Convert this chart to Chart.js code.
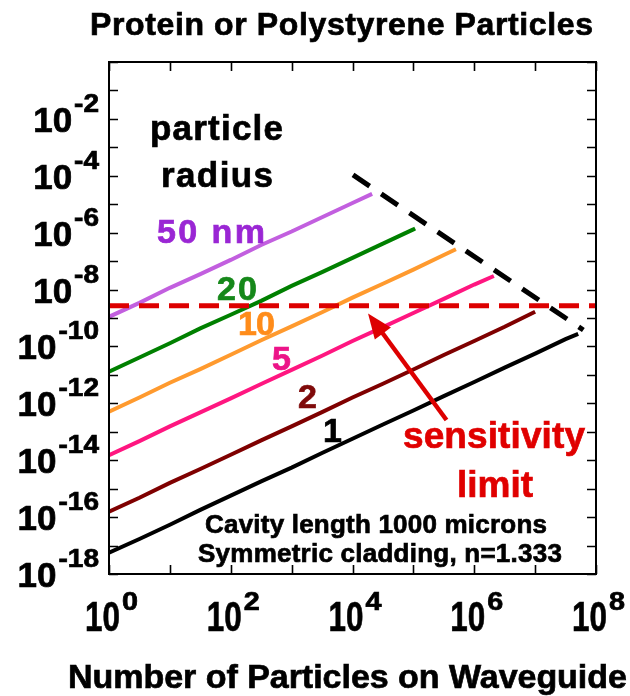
<!DOCTYPE html>
<html>
<head>
<meta charset="utf-8">
<script src="https://cdn.jsdelivr.net/npm/chart.js@4.4.1/dist/chart.umd.min.js"></script>
<style>
  html, body { margin: 0; padding: 0; background: #fff; }
  #wrap { width: 630px; height: 696px; }
</style>
</head>
<body>
<div id="wrap"><canvas id="sensChart" width="630" height="696"></canvas></div>
<script>
// number of particles on the waveguide (half-decade grid)
const particleCounts = [1, 3.16, 10, 31.6, 100, 316, 1e3, 3.16e3, 1e4, 3.16e4, 1e5, 3.16e5, 1e6, 3.16e6, 1e7, 3.16e7];

// signal for each particle radius
const radius50 = [1.1e-9, 3.4e-9, 1.15e-8, 3.5e-8, 1.1e-7, 3.7e-7, 1.1e-6, 3.5e-6, 1.1e-5];
const radius20 = [1.3e-11, 4.1e-11, 1.3e-10, 4.3e-10, 1.3e-9, 4.0e-9, 1.35e-8, 4.1e-8, 1.3e-7, 4.1e-7, 1.3e-6];
const radius10 = [5.1e-13, 1.6e-12, 5.3e-12, 1.6e-11, 5.1e-11, 1.65e-10, 5.1e-10, 1.6e-9, 5.2e-9, 1.6e-8, 5.0e-8, 1.65e-7];
const radius5 = [1.5e-14, 4.7e-14, 1.55e-13, 4.8e-13, 1.5e-12, 4.8e-12, 1.5e-11, 4.7e-11, 1.55e-10, 4.8e-10, 1.5e-9, 4.7e-9, 1.5e-8];
const radius2 = [1.55e-16, 4.8e-16, 1.6e-15, 4.9e-15, 1.55e-14, 5.0e-14, 1.55e-13, 4.9e-13, 1.6e-12, 4.9e-12, 1.55e-11, 5.0e-11, 1.55e-10, 4.9e-10];
const radius1 = [5.6e-18, 1.7e-17, 5.4e-17, 1.8e-16, 5.7e-16, 1.8e-15, 5.5e-15, 1.8e-14, 5.7e-14, 1.8e-13, 5.6e-13, 1.8e-12, 5.6e-12, 1.8e-11, 5.6e-11, 1.8e-10];

// last point of each curve (they stop at different counts)
const lastCount = [2.1e4, 1.07e5, 5.0e5, 2.1e6, 1.0e7, 5.1e7];
const lastSignal = [2.3e-5, 1.4e-6, 2.6e-7, 3.0e-8, 1.66e-9, 2.75e-10];

const radiusLabels = ["50 nm", "20", "10", "5", "2", "1"];
const lineColors = ["#c25fdf", "#008000", "#ff9a2e", "#ff1680", "#7f0000", "#000000"];
const textColors = ["#9a26d4", "#16881a", "#ff8c1a", "#ec1488", "#7f0a0a", "#000000"];

// sensitivity limit and the cut-off line through the curve ends
const sensitivityLimit = 2.7e-9;
const cutoffCounts = [1.02e4, 6.2e7];
const cutoffSignal = [1.07e-4, 3.8e-10];
const arrowTip = [1.8e4, 1.45e-9];
const arrowTail = [3.5e5, 2.6e-13];

// tick labels (powers of ten)
const xTickExps = [0, 2, 4, 6, 8];
const yTickExps = [-2, -4, -6, -8, -10, -12, -14, -16, -18];

const FONT = '"Liberation Sans", Arial, Helvetica, sans-serif';

function curve(values, i) {
    const pts = values.map((v, k) => ({ x: particleCounts[k], y: v }));
    pts.push({ x: lastCount[i], y: lastSignal[i] });
    return pts;
}

function fitText(ctx, text, left, baseline, size, color, width) {
    ctx.save();
    ctx.font = "bold " + size + "px " + FONT;
    ctx.fillStyle = color;
    ctx.strokeStyle = color;
    ctx.lineWidth = 0.7;
    ctx.textAlign = "left";
    ctx.textBaseline = "alphabetic";
    const natural = ctx.measureText(text).width;
    if (width && text.length > 1) {
        if ("letterSpacing" in ctx) {
            ctx.letterSpacing = ((width - natural) / (text.length - 1)).toFixed(2) + "px";
        } else {
            ctx.translate(left, baseline);
            ctx.scale(width / natural, 1);
            left = 0; baseline = 0;
        }
    }
    ctx.fillText(text, left, baseline);
    ctx.strokeText(text, left, baseline);
    ctx.restore();
}

function scaledText(ctx, text, left, baseline, size, sx) {
    ctx.save();
    ctx.font = "bold " + size + "px " + FONT;
    ctx.fillStyle = "#000";
    ctx.strokeStyle = "#000";
    ctx.lineWidth = 0.7;
    ctx.textBaseline = "alphabetic";
    ctx.translate(left, baseline);
    ctx.scale(sx, 1);
    ctx.fillText(text, 0, 0);
    ctx.strokeText(text, 0, 0);
    ctx.restore();
}

function textWidth(ctx, text, size, sx) {
    ctx.save();
    ctx.font = "bold " + size + "px " + FONT;
    const w = ctx.measureText(text).width * sx;
    ctx.restore();
    return w;
}

const framePlugin = {
    id: "frame",
    afterDraw(chart) {
        const ctx = chart.ctx;
        const a = chart.chartArea;
        const xs = chart.scales.x, ys = chart.scales.y;

        // frame + inward ticks
        ctx.save();
        ctx.strokeStyle = "#000";
        ctx.lineWidth = 2;
        ctx.strokeRect(a.left, a.top, a.right - a.left, a.bottom - a.top);
        ctx.lineWidth = 1.6;
        ctx.beginPath();
        for (let e = 0; e <= 8; e++) {
            const px = Math.round(xs.getPixelForValue(Math.pow(10, e))) + 0.5;
            ctx.moveTo(px, a.bottom); ctx.lineTo(px, a.bottom - 9);
            ctx.moveTo(px, a.top); ctx.lineTo(px, a.top + 9);
        }
        for (let e = 0; e >= -18; e--) {
            const py = Math.round(ys.getPixelForValue(Math.pow(10, e))) + 0.5;
            ctx.moveTo(a.left, py); ctx.lineTo(a.left + 9, py);
            ctx.moveTo(a.right, py); ctx.lineTo(a.right - 9, py);
        }
        ctx.stroke();

        // arrow to the sensitivity limit
        const tx = xs.getPixelForValue(arrowTip[0]), ty = ys.getPixelForValue(arrowTip[1]);
        const bx = xs.getPixelForValue(arrowTail[0]), by = ys.getPixelForValue(arrowTail[1]);
        const ang = Math.atan2(ty - by, tx - bx);
        ctx.strokeStyle = "#dd0000";
        ctx.fillStyle = "#dd0000";
        ctx.lineWidth = 4.5;
        ctx.beginPath();
        ctx.moveTo(bx, by);
        ctx.lineTo(tx - 20 * Math.cos(ang), ty - 20 * Math.sin(ang));
        ctx.stroke();
        ctx.beginPath();
        ctx.moveTo(tx, ty);
        ctx.lineTo(tx - 25 * Math.cos(ang) + 10 * Math.sin(ang), ty - 25 * Math.sin(ang) - 10 * Math.cos(ang));
        ctx.lineTo(tx - 25 * Math.cos(ang) - 10 * Math.sin(ang), ty - 25 * Math.sin(ang) + 10 * Math.cos(ang));
        ctx.closePath();
        ctx.fill();
        ctx.restore();

        // x tick labels 10^n
        xTickExps.forEach(e => {
            const px = xs.getPixelForValue(Math.pow(10, e));
            scaledText(ctx, "10", px - 24, 631, 43, 0.73);
            scaledText(ctx, String(e), px + 13, 610, 25, 1.15);
        });
        // y tick labels 10^-n
        yTickExps.forEach(e => {
            const py = ys.getPixelForValue(Math.pow(10, e));
            const sup = String(e);
            const ws = textWidth(ctx, sup, 25, 1.12);
            const w10 = textWidth(ctx, "10", 35, 1);
            const left = a.left - 10 - ws - 2 - w10;
            scaledText(ctx, "10", left, py + 13, 35, 1);
            scaledText(ctx, sup, left + w10 + 2, py - 7, 25, 1.12);
        });

        // titles and annotations
        fitText(ctx, "Protein or Polystyrene Particles", 90, 35, 32, "#000", 503);
        fitText(ctx, "Number of Particles on Waveguide", 68, 688, 34, "#000", 559);
        fitText(ctx, "particle", 150, 140, 35, "#000", 133);
        fitText(ctx, "radius", 161, 187, 35, "#000", 112);
        const labelPos = [[157, 243, 108], [217, 300, 40], [238, 335, 37], [272, 370, 0], [298, 408, 0], [323, 442, 0]];
        radiusLabels.forEach((t, i) => {
            fitText(ctx, t, labelPos[i][0], labelPos[i][1], 34, textColors[i], labelPos[i][2]);
        });
        fitText(ctx, "sensitivity", 403, 448, 37, "#e00000", 182);
        fitText(ctx, "limit", 457, 497, 37, "#e00000", 76);
        fitText(ctx, "Cavity length 1000 microns", 205, 533, 26, "#000", 342);
        fitText(ctx, "Symmetric cladding, n=1.333", 198, 562, 26, "#000", 364);
    }
};

document.addEventListener("DOMContentLoaded", function () {
    const ctx = document.getElementById("sensChart").getContext("2d");
    const series = [radius50, radius20, radius10, radius5, radius2, radius1];

    const datasets = [{
        label: "sensitivity limit",
        data: [{ x: 1, y: sensitivityLimit }, { x: 1e8, y: sensitivityLimit }],
        borderColor: "#dd0000",
        borderWidth: 5,
        borderDash: [20, 10],
        pointRadius: 0
    }];
    series.forEach((vals, i) => {
        datasets.push({
            label: radiusLabels[i],
            data: curve(vals, i),
            borderColor: lineColors[i],
            borderWidth: 4,
            pointRadius: 0
        });
    });
    datasets.push({
        label: "cut-off",
        data: cutoffCounts.map((c, k) => ({ x: c, y: cutoffSignal[k] })),
        borderColor: "#000",
        borderWidth: 5,
        borderDash: [20, 14],
        pointRadius: 0
    });

    new Chart(ctx, {
        type: "scatter",
        data: { datasets: datasets },
        options: {
            responsive: false,
            animation: false,
            showLine: true,
            layout: { padding: { left: 109, top: 62, right: 34, bottom: 122 } },
            plugins: {
                legend: { display: false },
                tooltip: { enabled: false }
            },
            scales: {
                x: { type: "logarithmic", min: 1, max: 1e8, display: false },
                y: { type: "logarithmic", min: 1e-18, max: 1, display: false }
            }
        },
        plugins: [framePlugin]
    });
});
</script>
</body>
</html>
